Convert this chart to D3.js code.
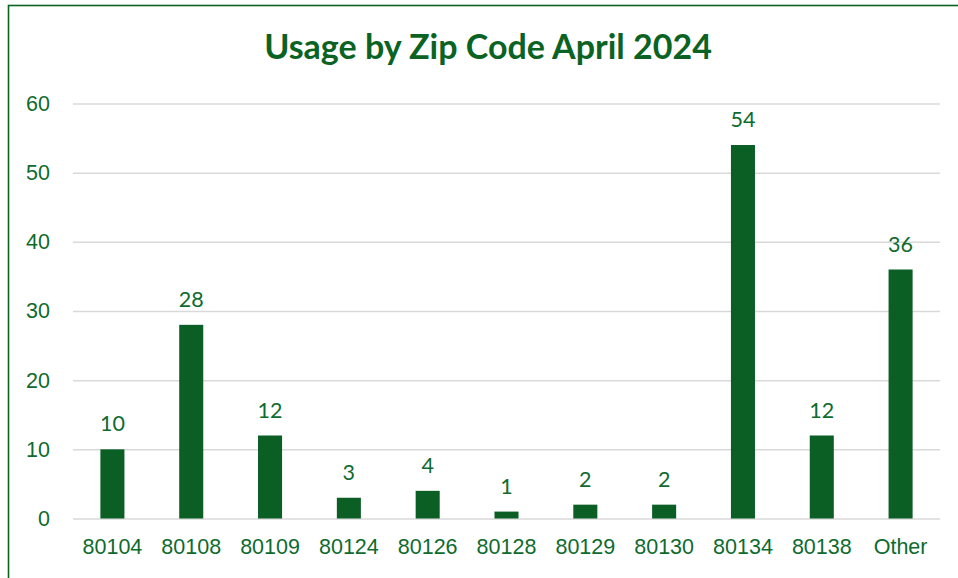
<!DOCTYPE html>
<html>
<head>
<meta charset="utf-8">
<script src="https://cdn.jsdelivr.net/npm/d3@7/dist/d3.min.js"></script>
<style>
  html, body { margin: 0; padding: 0; background: #fff; }
  svg { display: block; font-family: Lato, "Open Sans", sans-serif; }
  .tick-label, .cat-label, .value-label { fill: #0e6b2e; font-size: 21.5px; }
  .title { fill: #0b6323; font-size: 34px; font-weight: bold; }
</style>
</head>
<body>
<svg id="chart" width="958" height="578"></svg>
<script>
// Usage counts by zip code, April 2024
const categories = ["80104", "80108", "80109", "80124", "80126", "80128", "80129", "80130", "80134", "80138", "Other"];
const usage = [10, 28, 12, 3, 4, 1, 2, 2, 54, 12, 36];
const yTicks = [0, 10, 20, 30, 40, 50, 60];

const W = 958, H = 578;
const M = { left: 73, right: 18, top: 103.5, bottom: 59.5 };
const GREEN = "#0b5e24";

const svg = d3.select("#chart");

// frame line on the top/left edges (runs off the page on the other sides)
svg.append("rect").attr("x", 8.5).attr("y", 5.5)
  .attr("width", W + 20).attr("height", H + 20)
  .attr("fill", "none").attr("stroke", "#0b6323").attr("stroke-width", 1.6);

svg.append("text").attr("class", "title")
  .attr("x", 488).attr("y", 59).attr("text-anchor", "middle")
  .text("Usage by Zip Code April 2024");

const x = d3.scaleBand().domain(categories)
  .range([M.left, W - M.right]).padding(0);
const y = d3.scaleLinear().domain([0, 60])
  .range([H - M.bottom, M.top]);

// gridlines + y labels
const yAxis = svg.append("g")
  .attr("transform", `translate(${M.left},0)`)
  .call(d3.axisLeft(y).tickValues(yTicks).tickSize(-(W - M.left - M.right)).tickPadding(23));
yAxis.select(".domain").remove();
yAxis.selectAll(".tick line").attr("stroke", "#d9d9d9").attr("stroke-width", 1.5);
yAxis.selectAll(".tick text").attr("class", "tick-label")
  .attr("font-family", null).attr("font-size", null).attr("fill", null);

// category labels
const xAxis = svg.append("g")
  .attr("transform", `translate(0,${H - M.bottom})`)
  .call(d3.axisBottom(x).tickSize(0).tickPadding(20));
xAxis.select(".domain").remove();
xAxis.selectAll(".tick text").attr("class", "cat-label")
  .attr("font-family", null).attr("font-size", null).attr("fill", null);

const barW = x.bandwidth() * 0.305;
const bars = svg.append("g");
bars.selectAll("rect").data(usage).enter().append("rect")
  .attr("x", (_, i) => x(categories[i]) + (x.bandwidth() - barW) / 2)
  .attr("y", d => y(d))
  .attr("width", barW)
  .attr("height", d => y(0) - y(d))
  .attr("fill", GREEN);

bars.selectAll("text").data(usage).enter().append("text")
  .attr("class", "value-label")
  .attr("text-anchor", "middle")
  .attr("x", (_, i) => x(categories[i]) + x.bandwidth() / 2)
  .attr("y", d => y(d) - 18)
  .text(d => d);
</script>
</body>
</html>
